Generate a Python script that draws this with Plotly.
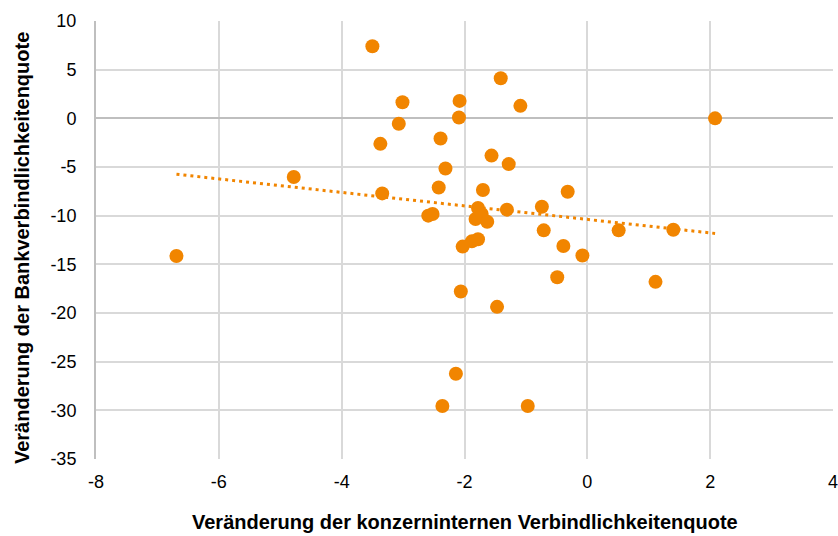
import numpy as np
import plotly.graph_objects as go

# Veränderung der konzerninternen Verbindlichkeitenquote (x) vs.
# Veränderung der Bankverbindlichkeitenquote (y)
x_intern = [-3.50, -3.01, -2.08, -2.09, -3.07, -3.37, -2.39, -1.56, -2.31, -4.78,
            -2.42, -3.34, -1.70, -2.59, -2.52, -1.78, -1.82, -1.72, -1.63, -2.03,
            -1.88, -1.78, -6.69, -1.41, -1.09, 2.08, -1.28, -0.32, -0.74, -1.31,
            -0.71, 0.51, 1.40, -0.39, -0.08, -2.06, -1.47, -2.14, -2.36, -0.97,
            -0.49, 1.11]
y_bank = [7.40, 1.66, 1.79, 0.08, -0.56, -2.62, -2.07, -3.83, -5.15, -6.03,
          -7.10, -7.71, -7.37, -10.00, -9.83, -9.21, -10.34, -9.83, -10.62, -13.18,
          -12.64, -12.43, -14.14, 4.12, 1.28, 0.00, -4.70, -7.54, -9.08, -9.38,
          -11.51, -11.51, -11.44, -13.11, -14.10, -17.79, -19.37, -26.24, -29.56, -29.56,
          -16.33, -16.80]

x_ticks = [-8, -6, -4, -2, 0, 2, 4]
y_ticks = [10, 5, 0, -5, -10, -15, -20, -25, -30, -35]

x_title = "Veränderung der konzerninternen Verbindlichkeitenquote"
y_title = "Veränderung der Bankverbindlichkeitenquote"

ORANGE = "#F18500"
GRID = "#D9D9D9"
AXIS = "#BFBFBF"
FONT = "Liberation Sans, Arial, sans-serif"

# linear trend over the observed x range
slope, intercept = np.polyfit(x_intern, y_bank, 1)
trend_x = np.array([min(x_intern), max(x_intern)])
trend_y = slope * trend_x + intercept

fig = go.Figure()
fig.add_trace(go.Scatter(
    x=trend_x, y=trend_y, mode="lines",
    line=dict(color=ORANGE, width=3, dash="3px,4px"),
    hoverinfo="skip", showlegend=False,
))
fig.add_trace(go.Scatter(
    x=x_intern, y=y_bank, mode="markers",
    marker=dict(color=ORANGE, size=14, line=dict(width=0)),
    showlegend=False,
))

fig.update_layout(
    width=838, height=536,
    margin=dict(l=96, r=5, t=21, b=77),
    paper_bgcolor="white", plot_bgcolor="white",
    font=dict(family=FONT, size=18, color="#000000"),
    annotations=[
        dict(text="<b>" + x_title + "</b>", xref="paper", yref="paper",
             x=0.5, y=-0.1438, xanchor="center", yanchor="middle",
             showarrow=False, font=dict(size=20)),
        dict(text="<b>" + y_title + "</b>", xref="paper", yref="paper",
             x=-0.1004, y=0.4817, xanchor="center", yanchor="middle",
             textangle=-90, showarrow=False, font=dict(size=20)),
    ],
)
fig.update_xaxes(
    range=[-8, 4], tickvals=x_ticks, ticktext=[str(v) for v in x_ticks],
    showgrid=True, gridcolor=GRID, gridwidth=1.5,
    zeroline=False, showline=False, ticks="",
    ticklabelstandoff=10, ticklabeloverflow="allow", automargin=False,
)
fig.update_yaxes(
    range=[-35, 10], tickvals=y_ticks, ticktext=[str(v) for v in y_ticks],
    showgrid=True, gridcolor=GRID, gridwidth=1.5,
    zeroline=True, zerolinecolor=AXIS, zerolinewidth=2,
    showline=True, linecolor=AXIS, linewidth=2, ticks="",
    ticklabelstandoff=14, automargin=False,
)

fig.write_html("out.html")
